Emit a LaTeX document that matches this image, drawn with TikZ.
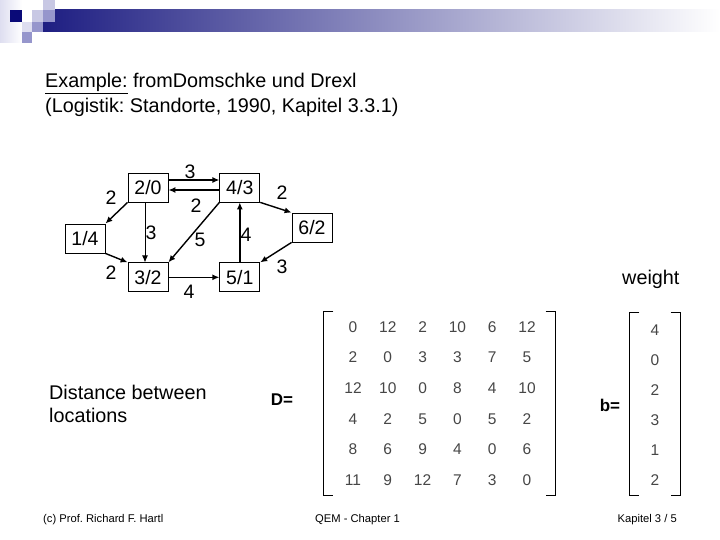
\documentclass[tikz,border=0pt]{standalone}
\usepackage{fontspec}
\setmainfont{Liberation Sans}
\usetikzlibrary{positioning,arrows.meta,matrix}
\frenchspacing

\definecolor{navybar}{RGB}{30,30,130}
\definecolor{midbar}{RGB}{176,176,196}
\definecolor{sqdark}{RGB}{10,10,120}
\definecolor{sqmid}{RGB}{150,150,204}
\definecolor{sqlight}{RGB}{200,200,228}
\definecolor{sqpale}{RGB}{222,222,240}
\definecolor{numgray}{RGB}{70,70,70}

\begin{document}
\begin{tikzpicture}[x=1pt, y=-1pt]
    \tikzset{
        loc/.style = {rectangle, draw=black, line width=0.8pt, minimum width=40pt, minimum height=29pt, inner sep=0pt, font=\fontsize{19.5}{19.5}\selectfont},
        arrow/.style = {line width=1.4pt, -{Latex[length=7pt,width=6pt]}},
        thinarrow/.style = {line width=0.8pt, -{Latex[length=7pt,width=6pt]}},
        wlabel/.style = {font=\fontsize{19.5}{19.5}\selectfont, inner sep=0pt},
        bigtext/.style = {font=\fontsize{19.8}{22}\selectfont, inner sep=0pt},
        vecname/.style = {font=\fontsize{17}{17}\selectfont\bfseries, inner sep=0pt},
        entry/.style = {minimum width=34.8pt, minimum height=30.6pt, inner sep=0pt, text=numgray, font=\fontsize{15.5}{15.5}\selectfont},
        bentry/.style = {minimum width=34pt, minimum height=30pt, inner sep=0pt, text=numgray, font=\fontsize{15.5}{15.5}\selectfont},
        bracket/.style = {line width=0.9pt},
        footer/.style = {font=\fontsize{11.2}{12}\selectfont, inner sep=0pt}
    }
    \useasboundingbox (0,0) rectangle (720,540);

    % header bar
    \shade[left color=navybar, middle color=midbar, right color=white] (43,10) rectangle (720,32);
    \shade[left color=sqpale, right color=white] (0,0) rectangle (22,43);
    \fill[sqdark] (10,10) rectangle (22,22);
    \fill[sqlight] (32,10) rectangle (43,22);
    \fill[sqlight] (43,0) rectangle (55,10);
    \fill[sqmid] (43,10) rectangle (55,22);
    \fill[sqpale] (22,22) rectangle (32,32);
    \fill[sqmid] (32,22) rectangle (43,32);
    \fill[sqmid] (22,32) rectangle (32,43);

    \node (title1) [bigtext, anchor=base west] at (45,88) {\underline{Example:} fromDomschke und Drexl};
    \node (title2) [bigtext, anchor=base west] at (45,113) {(Logistik: Standorte, 1990, Kapitel 3.3.1)};

    % locations
    \node (n20) [loc] at (148,187.5) {2/0};
    \node (n43) [loc, right=51pt of n20] {4/3};
    \node (n32) [loc, below=60pt of n20] {3/2};
    \node (n51) [loc, below=60pt of n43] {5/1};
    \node (n14) [loc] at (85,238.5) {1/4};
    \node (n62) [loc] at (312,227.5) {6/2};

    \draw [arrow] ([yshift=7.5pt]n20.east) -- ([yshift=7.5pt]n43.west);
    \draw [arrow] ([yshift=-2.5pt]n43.west) -- ([yshift=-2.5pt]n20.east);
    \draw [arrow] (n20.south west) -- (n14.north east);
    \draw [thinarrow] ([xshift=-3pt]n20.south) -- ([xshift=-3pt]n32.north);
    \draw [arrow] (n14.south east) -- (n32.north west);
    \draw [arrow] (n43.south west) -- (n32.north east);
    \draw [arrow] (n32) -- (n51);
    \draw [arrow] (n51) -- (n43);
    \draw [arrow] (n43.south east) -- (n62.north west);
    \draw [arrow] (n62.south west) -- (n51.north east);

    % distances
    \node (w2043) [wlabel] at (190,172) {3};
    \node (w4320) [wlabel] at (196,206) {2};
    \node (w2014) [wlabel] at (111,198) {2};
    \node (w2032) [wlabel] at (151,233) {3};
    \node (w1432) [wlabel] at (111,273) {2};
    \node (w4332) [wlabel] at (200,240) {5};
    \node (w3251) [wlabel] at (189,292) {4};
    \node (w5143) [wlabel] at (246,235) {4};
    \node (w4362) [wlabel] at (282,193) {2};
    \node (w6251) [wlabel] at (282,267) {3};

    \node (dist1) [bigtext, anchor=base west] at (49,399) {Distance between};
    \node (dist2) [bigtext, anchor=base west] at (49,422) {locations};
    \node (weight) [bigtext, anchor=west] at (622,279) {weight};

    % matrices
    \node (dname) [vecname] at (282,400) {D=};
    \matrix (D) [matrix of nodes, nodes={entry}, column sep=0pt, row sep=0pt] at (440,403.5) {
        0  & 12 & 2  & 10 & 6 & 12 \\
        2  & 0  & 3  & 3  & 7 & 5  \\
        12 & 10 & 0  & 8  & 4 & 10 \\
        4  & 2  & 5  & 0  & 5 & 2  \\
        8  & 6  & 9  & 4  & 0 & 6  \\
        11 & 9  & 12 & 7  & 3 & 0  \\
    };
    \draw [bracket] ([xshift=1.4pt,yshift=-3.3pt]D.north west) -| ([xshift=-8.6pt,yshift=3.3pt]D.south west) -- ++(10pt,0);
    \draw [bracket] ([xshift=-2.4pt,yshift=-3.3pt]D.north east) -| ([xshift=7.6pt,yshift=3.3pt]D.south east) -- ++(-10pt,0);

    \node (bname) [vecname] at (610,405) {b=};
    \matrix (b) [matrix of nodes, nodes={bentry}, row sep=0pt] at (655,405.5) {
        4 \\ 0 \\ 2 \\ 3 \\ 1 \\ 2 \\
    };
    \draw [bracket] ([xshift=5pt]b.north west) -| ([xshift=-5pt,yshift=3.5pt]b.south west) -- ++(10pt,0);
    \draw [bracket] ([xshift=-5pt]b.north east) -| ([xshift=5pt,yshift=3.5pt]b.south east) -- ++(-10pt,0);

    % footer
    \node (copy) [footer, anchor=base west] at (43,522) {(c) Prof. Richard F. Hartl};
    \node (chap) [footer, anchor=base west] at (315,522) {QEM - Chapter 1};
    \node (page) [footer, anchor=base east] at (677,522) {Kapitel 3 / 5};
\end{tikzpicture}
\end{document}
